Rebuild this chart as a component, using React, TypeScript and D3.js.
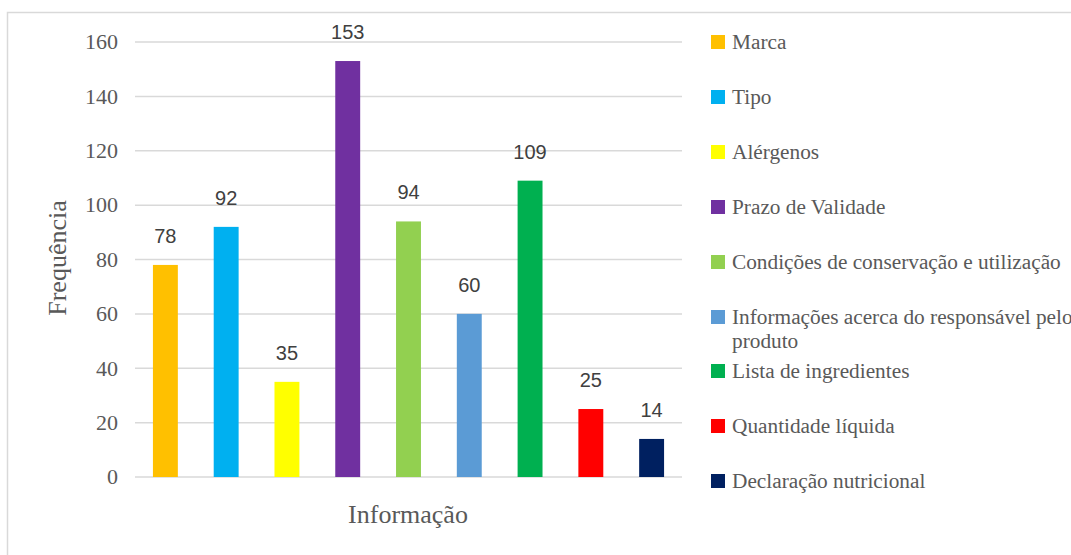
import React from "react";
import * as d3 from "d3";

const categories = [
  "Marca",
  "Tipo",
  "Alérgenos",
  "Prazo de Validade",
  "Condições de conservação e utilização",
  "Informações acerca do responsável pelo produto",
  "Lista de ingredientes",
  "Quantidade líquida",
  "Declaração nutricional",
];
const values = [78, 92, 35, 153, 94, 60, 109, 25, 14];
const colors = ["#FFC000", "#00B0F0", "#FFFF00", "#7030A0", "#92D050", "#5B9BD5", "#00B050", "#FF0000", "#002060"];
const yTicks = [0, 20, 40, 60, 80, 100, 120, 140, 160];
const legendLines: string[][] = [
  ["Marca"],
  ["Tipo"],
  ["Alérgenos"],
  ["Prazo de Validade"],
  ["Condições de conservação e utilização"],
  ["Informações acerca do responsável pelo", "produto"],
  ["Lista de ingredientes"],
  ["Quantidade líquida"],
  ["Declaração nutricional"],
];
const legendY = [42, 97, 152, 207, 262, 317, 371, 426, 481];

export default function App() {
  const W = 1071, H = 555;
  const x = d3.scaleBand<string>().domain(categories).range([135, 682]).paddingInner(0.59).paddingOuter(0.295);
  const y = d3.scaleLinear().domain([0, 160]).range([477, 42]);
  const serif = "'Liberation Serif', 'Times New Roman', serif";
  const sans = "'Liberation Sans', Arial, sans-serif";
  return (
    <svg width={W} height={H} style={{ position: "absolute", left: 0, top: 0 }}>
      <rect x={0} y={0} width={W} height={H} fill="#fff" />
      <rect x={7.5} y={12.5} width={W + 10} height={H + 10} fill="none" stroke="#d9d9d9" strokeWidth={1.5} />
      {yTicks.map((t) => (
        <g key={t}>
          <line x1={135} x2={682} y1={y(t)} y2={y(t)} stroke="#d9d9d9" strokeWidth={1.5} />
          <text x={118} y={y(t)} dy="0.33em" textAnchor="end" fontFamily={serif} fontSize={22} fill="#595959">{t}</text>
        </g>
      ))}
      {categories.map((c, i) => (
        <g key={c}>
          <rect x={x(c)} y={y(values[i])} width={x.bandwidth()} height={y(0) - y(values[i])} fill={colors[i]} />
          <text x={(x(c) as number) + x.bandwidth() / 2} y={y(values[i]) - 22} textAnchor="middle" fontFamily={sans} fontSize={20} fill="#404040">{values[i]}</text>
        </g>
      ))}
      <text transform={`translate(66,258) rotate(-90)`} textAnchor="middle" fontFamily={serif} fontSize={26} fill="#595959">Frequência</text>
      <text x={408} y={523} textAnchor="middle" fontFamily={serif} fontSize={26} fill="#595959">Informação</text>
      {legendLines.map((lines, i) => (
        <g key={i}>
          <rect x={711} y={legendY[i] - 7} width={14} height={14} fill={colors[i]} />
          {lines.map((l, j) => (
            <text key={j} x={732} y={legendY[i] + j * 24} dy="0.35em" fontFamily={serif} fontSize={21.3} fill="#595959">{l}</text>
          ))}
        </g>
      ))}
    </svg>
  );
}
